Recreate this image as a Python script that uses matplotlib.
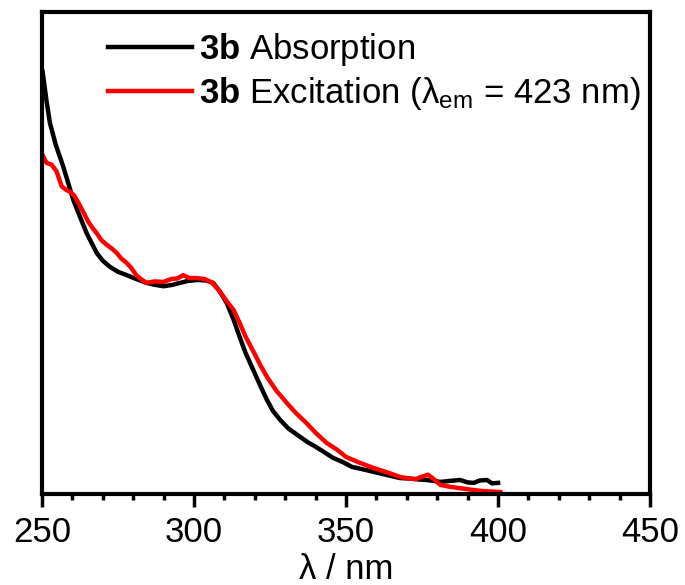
import numpy as np
import matplotlib
matplotlib.use("Agg")
import matplotlib.pyplot as plt

plt.rcParams['font.family'] = ['Liberation Sans', 'DejaVu Sans']
plt.rcParams['mathtext.fontset'] = 'custom'
plt.rcParams['mathtext.rm'] = 'Liberation Sans'
plt.rcParams['mathtext.bf'] = 'Liberation Sans:bold'
plt.rcParams['mathtext.it'] = 'Liberation Sans:italic'

# Absorption (normalized)
abs_wl = [250.2, 251.5, 252.6, 254.5, 257.0, 260.3, 262.5, 264.7, 268.0, 270.0, 272.4, 275.0, 277.9,
          281.0, 284.4, 287.0, 290.0, 293.0, 295.4, 298.0, 301.0, 304.0, 306.3, 308.5, 310.8, 313.0,
          315.0, 317.0, 319.5, 322.0, 324.0, 326.0, 328.3, 331.0, 335.0, 337.5, 340.0, 343.0, 345.7,
          349.0, 352.0, 355.0, 359.0, 363.0, 367.8, 371.0, 374.0, 376.5, 379.0, 381.0, 384.0, 387.5,
          390.0, 392.0, 394.0, 396.4, 398.0, 400.0]
abs_val = [0.876, 0.815, 0.770, 0.725, 0.679, 0.610, 0.575, 0.541, 0.500, 0.484, 0.471, 0.461, 0.454,
           0.446, 0.438, 0.434, 0.431, 0.434, 0.438, 0.442, 0.444, 0.443, 0.438, 0.420, 0.396, 0.362,
           0.326, 0.292, 0.257, 0.222, 0.195, 0.172, 0.154, 0.136, 0.118, 0.107, 0.098, 0.086, 0.075,
           0.066, 0.056, 0.052, 0.046, 0.040, 0.033, 0.032, 0.030, 0.029, 0.027, 0.025, 0.027, 0.029,
           0.024, 0.023, 0.028, 0.029, 0.022, 0.023]

# Excitation (normalized)
exc_wl = [250.2, 251.5, 253.2, 254.8, 256.5, 258.0, 259.2, 260.5, 262.0, 263.5, 265.2, 266.5, 268.0,
          269.5, 271.3, 273.0, 274.6, 276.0, 277.9, 279.5, 281.0, 282.5, 284.4, 287.0, 290.0, 292.5,
          294.5, 296.4, 298.5, 301.0, 303.5, 306.0, 308.5, 311.0, 313.0, 315.0, 317.0, 320.0, 322.0,
          324.0, 327.0, 330.5, 333.5, 337.0, 340.0, 343.6, 347.0, 350.0, 354.0, 359.0, 363.0, 368.0,
          371.0, 373.0, 375.0, 377.0, 379.0, 381.0, 384.0, 387.5, 391.0, 395.0, 398.0, 400.7]
exc_val = [0.703, 0.687, 0.683, 0.669, 0.638, 0.631, 0.627, 0.620, 0.604, 0.586, 0.565, 0.553, 0.541,
           0.527, 0.517, 0.509, 0.500, 0.489, 0.479, 0.468, 0.454, 0.446, 0.438, 0.441, 0.440, 0.446,
           0.447, 0.454, 0.448, 0.448, 0.446, 0.438, 0.420, 0.398, 0.382, 0.355, 0.326, 0.290, 0.265,
           0.243, 0.215, 0.189, 0.168, 0.147, 0.127, 0.106, 0.092, 0.077, 0.066, 0.054, 0.046, 0.035,
           0.032, 0.031, 0.036, 0.040, 0.030, 0.019, 0.015, 0.012, 0.009, 0.006, 0.005, 0.004]

abs_label = r'$\mathbf{3b}$ Absorption'
exc_label = r'$\mathbf{3b}$ Excitation (λ$_{\mathrm{em}}$ = 423 nm)'
xticks = [250, 300, 350, 400, 450]

fig = plt.figure(figsize=(6.85, 5.85), dpi=100)
ax = fig.add_axes([0.0613, 0.1556, 0.949 - 0.0613, 0.9795 - 0.1556])

ax.plot(abs_wl, abs_val, color='black', lw=3.2, label=abs_label)
ax.plot(exc_wl, exc_val, color='#ff0000', lw=3.2, label=exc_label)

ax.set_xlim(250, 450)
ax.set_ylim(0, 1)
ax.set_xticks(xticks)
ax.set_xticks(np.arange(250, 451, 10), minor=True)
ax.set_yticks([])
ax.tick_params(axis='x', which='major', direction='out', length=9, width=2.5, labelsize=25, pad=7)
ax.tick_params(axis='x', which='minor', direction='out', length=4.5, width=2.5)
for s in ax.spines.values():
    s.set_linewidth(3)
ax.set_xlabel('λ / nm', fontsize=25, labelpad=3)

leg = ax.legend(loc='upper left', bbox_to_anchor=(0.069, 1.01), frameon=False, fontsize=25,
                handlelength=2.4, handletextpad=0.2, labelspacing=0.2, borderaxespad=0.3)

fig.savefig('out.png', dpi=100)
